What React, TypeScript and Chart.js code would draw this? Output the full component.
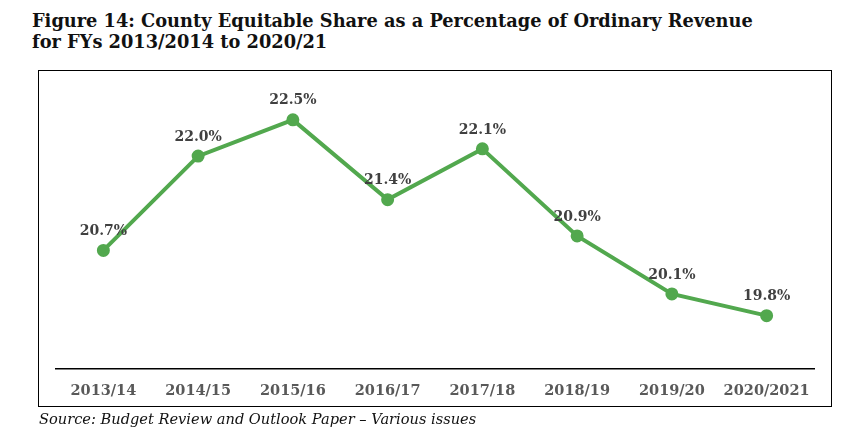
import React, { useEffect, useRef } from "react";
import { Chart, registerables } from "chart.js";

Chart.register(...registerables);

const categories = ["2013/14", "2014/15", "2015/16", "2016/17", "2017/18", "2018/19", "2019/20", "2020/2021"];
const shareValues = [20.7, 22.0, 22.5, 21.4, 22.1, 20.9, 20.1, 19.8];
const pointLabels = ["20.7%", "22.0%", "22.5%", "21.4%", "22.1%", "20.9%", "20.1%", "19.8%"];

const titleLine1 = "Figure 14: County Equitable Share as a Percentage of Ordinary Revenue";
const titleLine2 = "for FYs 2013/2014 to 2020/21";
const sourceText = "Source: Budget Review and Outlook Paper \u2013 Various issues";

const GREEN = "#52a84e";
const SERIF = "'DejaVu Serif', 'Liberation Serif', serif";

const labelPlugin = {
  id: "pointLabels",
  afterDatasetsDraw(chart: any) {
    const ctx = chart.ctx;
    const meta = chart.getDatasetMeta(0);
    ctx.save();
    ctx.font = `bold 14px ${SERIF}`;
    ctx.fillStyle = "#404040";
    ctx.textAlign = "center";
    ctx.textBaseline = "middle";
    meta.data.forEach((pt: any, i: number) => {
      ctx.fillText(pointLabels[i], pt.x, pt.y - 19);
    });
    ctx.restore();
  },
};

export default function App() {
  const ref = useRef<HTMLCanvasElement | null>(null);

  useEffect(() => {
    document.body.style.margin = "0";
    if (!ref.current) return;
    const chart = new Chart(ref.current, {
      type: "line",
      data: {
        labels: categories,
        datasets: [
          {
            data: shareValues,
            borderColor: GREEN,
            backgroundColor: GREEN,
            borderWidth: 4,
            pointRadius: 4.5,
            pointBackgroundColor: GREEN,
            pointBorderColor: GREEN,
            tension: 0,
          },
        ],
      },
      options: {
        animation: false,
        responsive: false,
        maintainAspectRatio: false,
        layout: { padding: { left: 17, right: 16, top: 30, bottom: 8 } },
        plugins: { legend: { display: false }, tooltip: { enabled: false } },
        scales: {
          x: {
            offset: true,
            grid: { display: false, drawTicks: false },
            border: { display: true, color: "#000", width: 1.5 },
            ticks: {
              color: "#595959",
              font: { family: SERIF, size: 14.5, weight: "bold" },
              padding: 14,
              maxRotation: 0,
              autoSkip: false,
            },
          },
          y: {
            display: false,
            min: 19.07,
            max: 22.76,
          },
        },
      },
      plugins: [labelPlugin],
    });
    return () => chart.destroy();
  }, []);

  return (
    <div style={{ position: "fixed", left: 0, top: 0, width: 861, height: 447, background: "#fff", fontFamily: SERIF }}>
      <div
        style={{
          position: "absolute",
          left: 32,
          top: 10,
          fontSize: 17.8,
          fontWeight: "bold",
          lineHeight: "21px",
          color: "#111",
          whiteSpace: "nowrap",
        }}
      >
        <div>{titleLine1}</div>
        <div>{titleLine2}</div>
      </div>
      <div
        style={{
          position: "absolute",
          left: 38,
          top: 70,
          width: 794,
          height: 337,
          border: "1.5px solid #000",
          boxSizing: "border-box",
        }}
      />
      <canvas
        ref={ref}
        width={791}
        height={351}
        style={{ position: "absolute", left: 39, top: 71, display: "block", width: 791, height: 351 }}
      />
      <div
        style={{
          position: "absolute",
          left: 39,
          top: 410,
          fontSize: 14.6,
          fontStyle: "italic",
          color: "#111",
          whiteSpace: "nowrap",
        }}
      >
        {sourceText}
      </div>
    </div>
  );
}
